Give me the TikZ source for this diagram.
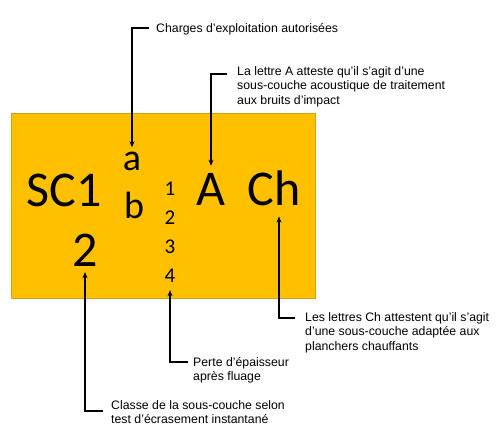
\documentclass[tikz,border=0pt]{standalone}
\usepackage{fontspec}
\setmainfont{Liberation Sans}
\newfontfamily\calfont{Carlito}
\usetikzlibrary{arrows.meta}
\definecolor{gold}{HTML}{FFC000}
\definecolor{goldedge}{HTML}{D4A017}
\tikzset{
  big/.style={font=\calfont\fontsize{50}{50}\selectfont, inner sep=0pt, anchor=base},
  mid/.style={font=\calfont\fontsize{38}{38}\selectfont, inner sep=0pt, anchor=base},
  small/.style={font=\calfont\fontsize{21}{21}\selectfont, inner sep=0pt, anchor=base},
  note/.style={font=\fontsize{12.3}{14.5}\selectfont, inner sep=0pt, anchor=base west},
  arr/.style={line width=1.3pt, -{Stealth[length=6pt,width=5pt]}},
}
\newcommand{\lines}[1]{\begin{tabular}[t]{@{}l@{}}#1\end{tabular}}
\begin{document}
\begin{tikzpicture}[x=1pt,y=-1pt]
\useasboundingbox (0,0) rectangle (500,442);
\fill[white] (0,0) rectangle (500,442);
\node[draw=goldedge, fill=gold, line width=0.8pt, minimum width=304pt, minimum height=185pt, inner sep=0pt, anchor=north west] (box) at (11,113) {};
\node[big] (sc) at (64,206) {SC1};
\node[big] (two) at (85,266) {2};
\node[mid] (a) at (132,170) {a};
\node[mid] (b) at (134,218) {b};
\node[small] (n1) at (170,195) {1};
\node[small] (n2) at (170,224) {2};
\node[small] (n3) at (170,253) {3};
\node[small] (n4) at (170,282) {4};
\node[big] (A) at (211,205) {A};
\node[big] (Ch) at (274,205) {Ch};

\node[note] (t1) at (156,32) {Charges d’exploitation autorisées};
\node[note] (t2) at (237,75) {\lines{La lettre A atteste qu’il s’agit d’une\\sous-couche acoustique de traitement\\aux bruits d’impact}};
\node[note] (t3) at (305,321) {\lines{Les lettres Ch attestent qu’il s’agit\\d’une sous-couche adaptée aux\\planchers chauffants}};
\node[note] (t4) at (193,366) {\lines{Perte d’épaisseur\\après fluage}};
\node[note] (t5) at (111,409) {\lines{Classe de la sous-couche selon\\test d’écrasement instantané}};

\coordinate (s1) at (149,28);
\coordinate (s2) at (227,74);
\coordinate (s3) at (295,318);
\coordinate (s4) at (188,362);
\coordinate (s5) at (103,411);

\draw[arr, shorten >=4pt] (s1) -| (a.north);
\draw[arr, shorten >=7pt] (s2) -| (A.north);
\draw[arr, shorten >=11pt] (s3) -| ([xshift=5pt]Ch.south);
\draw[arr, shorten >=8pt] (s4) -| (n4.south);
\draw[arr, shorten >=6pt] (s5) -| (two.south);
\end{tikzpicture}
\end{document}
